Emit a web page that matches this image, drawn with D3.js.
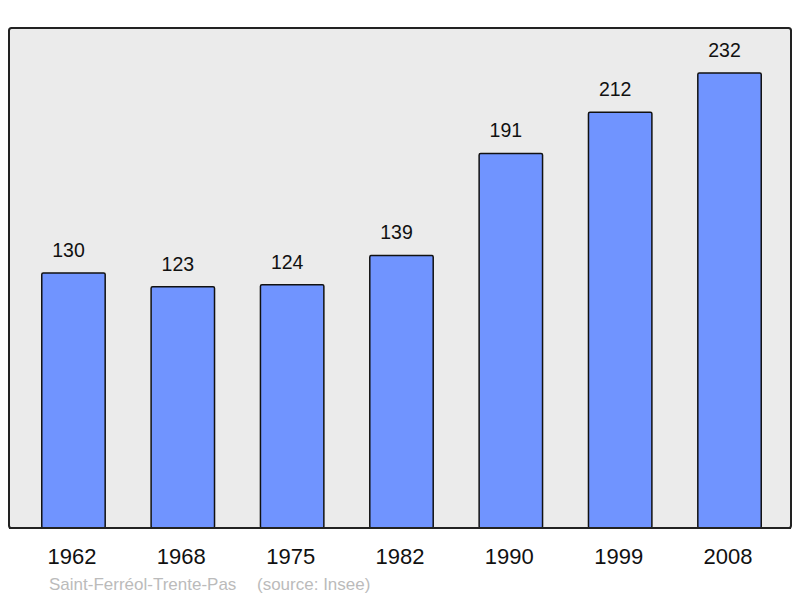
<!DOCTYPE html>
<html><head><meta charset="utf-8">
<script src="https://cdn.jsdelivr.net/npm/d3@7"></script>
<style>body{margin:0;background:#fff}svg{display:block}</style>
</head><body>
<svg id="c" width="800" height="598"></svg>
<script>
const years = ["1962","1968","1975","1982","1990","1999","2008"];
const population = [130,123,124,139,191,212,232];
const commune = "Saint-Ferréol-Trente-Pas";
const source = "(source: Insee)";

const svg = d3.select("#c");
const font = "'Liberation Sans', Arial, sans-serif";
const panel = {x0: 9, x1: 791, y0: 28, y1: 528};

svg.append("rect").attr("x", panel.x0).attr("y", panel.y0)
  .attr("width", panel.x1 - panel.x0).attr("height", panel.y1 - panel.y0)
  .attr("rx", 2.5).attr("fill", "#ebebeb").attr("stroke", "#222").attr("stroke-width", 2);

const x = d3.scaleBand().domain(years).range([18.8, 784.2]).paddingInner(0.42).paddingOuter(0.21);
const y = d3.scaleLinear().domain([0, 255]).range([panel.y1, panel.y0]);

svg.selectAll("rect.bar").data(years).join("rect").attr("class","bar")
  .attr("x", d => x(d)).attr("width", x.bandwidth())
  .attr("y", (d,i) => y(population[i])).attr("height", (d,i) => panel.y1 - y(population[i]))
  .attr("rx", 1.5).attr("fill", "#7094ff").attr("stroke", "#111").attr("stroke-width", 1.5);

svg.append("line").attr("x1", panel.x0).attr("x2", panel.x1).attr("y1", panel.y1).attr("y2", panel.y1)
  .attr("stroke", "#222").attr("stroke-width", 2);

svg.selectAll("text.val").data(years).join("text").attr("class","val")
  .attr("x", d => x(d) + x.bandwidth()/2 - 5).attr("y", (d,i) => y(population[i]) - 16)
  .attr("text-anchor","middle").attr("font-family", font).attr("font-size", 19.5).attr("fill","#111")
  .text((d,i) => population[i]);

const xAxis = d3.axisBottom(x).tickSize(0).tickPadding(0);
const ax = svg.append("g").attr("transform", `translate(0,${panel.y1})`).call(xAxis);
ax.select(".domain").remove();
ax.selectAll("text").attr("font-family", font).attr("font-size", 22).attr("fill","#111")
  .attr("dy", null).attr("y", 36).attr("dx", -1.5);

svg.append("text").attr("x", 49).attr("y", 590).attr("font-family", font).attr("font-size", 17)
  .attr("fill", "#bbb").text(commune);
svg.append("text").attr("x", 257).attr("y", 590).attr("font-family", font).attr("font-size", 17)
  .attr("fill", "#bbb").text(source);
</script>
</body></html>
